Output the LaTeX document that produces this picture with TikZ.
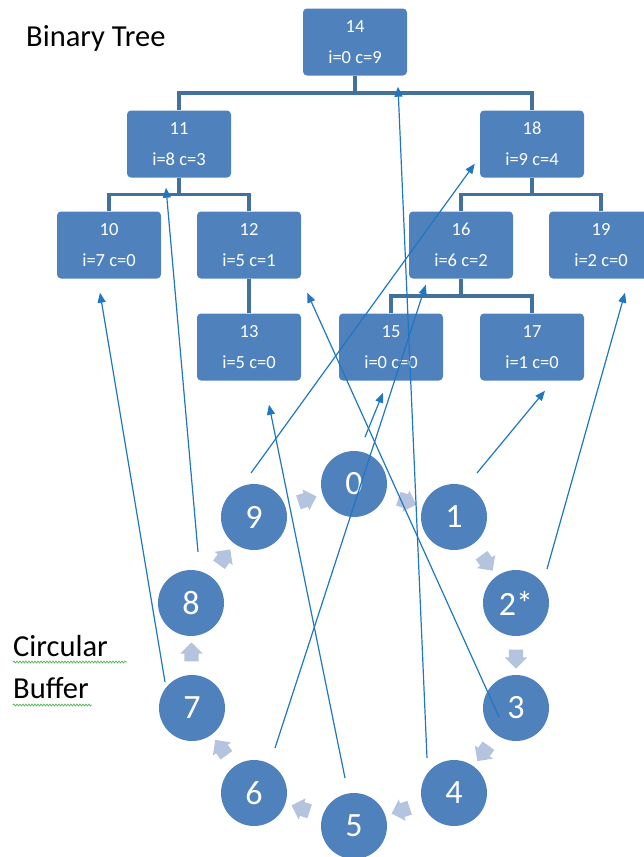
\documentclass[tikz,border=0pt]{standalone}
\usepackage{fontspec}
\setmainfont{Carlito}
\usetikzlibrary{arrows.meta,shapes.arrows,decorations.pathmorphing,calc}
\definecolor{boxblue}{HTML}{4F81BD}
\definecolor{treeline}{HTML}{41719C}
\definecolor{linkblue}{HTML}{1F77C3}
\definecolor{ringarrow}{HTML}{B4C3DE}
\definecolor{squig}{HTML}{5DB75D}
\begin{document}
\begin{tikzpicture}[x=1pt,y=-1pt,
 treebox/.style={rectangle, rounded corners=4pt, fill=boxblue, text=white, minimum width=104pt, minimum height=67pt, align=center, inner sep=0pt, font=\fontsize{18.5}{31}\selectfont},
 slot/.style={circle, fill=boxblue, text=white, minimum size=66pt, inner sep=0pt, font=\fontsize{34}{34}\selectfont},
 treelink/.style={draw=treeline, line width=3.5pt},
 ptr/.style={draw=linkblue, line width=1.2pt, -{Triangle[length=10pt,width=8pt]}},
 ringstep/.style={single arrow, fill=ringarrow, minimum height=19pt, single arrow head extend=4pt, inner xsep=0pt, inner ysep=7pt, sloped, allow upside down},
 title/.style={anchor=base west, font=\fontsize{30.5}{30.5}\selectfont, inner sep=0pt},
 squiggle/.style={draw=squig, line width=0.8pt, decorate, decoration={snake, amplitude=0.9pt, segment length=3pt}}
]
\useasboundingbox (0,0) rectangle (643,857);

% labels
\node[title] (lbt) at (26,46) {Binary Tree};
\node[title] (lcir) at (13,656) {Circular};
\node[title] (lbuf) at (13,698) {Buffer};
\draw[squiggle] (13,662) -- (127,662);
\draw[squiggle] (13,705) -- (92,705);

% tree boxes
\node[treebox] (b14) at (355,42) {14\\i=0 c=9};
\node[treebox] (b11) at (179,144) {11\\i=8 c=3};
\node[treebox] (b18) at (532,144) {18\\i=9 c=4};
\node[treebox] (b10) at (109,245) {10\\i=7 c=0};
\node[treebox] (b12) at (249,245) {12\\i=5 c=1};
\node[treebox] (b16) at (461,245) {16\\i=6 c=2};
\node[treebox] (b19) at (601,245) {19\\i=2 c=0};
\node[treebox] (b13) at (249,347) {13\\i=5 c=0};
\node[treebox] (b15) at (391,347) {15\\i=0 c=0};
\node[treebox] (b17) at (532,347) {17\\i=1 c=0};

% tree links
\foreach \p/\c in {b14/b11,b14/b18,b11/b10,b11/b12,b18/b16,b18/b19,b16/b15,b16/b17}
  \draw[treelink] (\p.south) |- ($(\p.south)!.5!(\c.north)$) -| (\c.north);
\draw[treelink] (b12.south) -- (b13.north);

% circular buffer
\node[slot] (c0) at (354,484) {0};
\node[slot] (c1) at (454,517) {1};
\node[slot] (c2) at (516,603) {2*};
\node[slot] (c3) at (516,708) {3};
\node[slot] (c4) at (454,793) {4};
\node[slot] (c5) at (354,826) {5};
\node[slot] (c6) at (254,793) {6};
\node[slot] (c7) at (192,708) {7};
\node[slot] (c8) at (191,603) {8};
\node[slot] (c9) at (254,517) {9};

\foreach \a/\b in {c9/c0,c0/c1,c1/c2,c2/c3,c3/c4,c4/c5,c5/c6,c6/c7,c7/c8,c8/c9}
  \path (\a) -- (\b) node[midway, ringstep] (r\a\b) {};

% pointer ends
\coordinate (s0) at ($(c0)+(11,-47)$);
\coordinate (s1) at ($(c1)+(23,-44)$);
\coordinate (s2) at ($(c2)+(31,-34)$);
\coordinate (s3) at ($(c3)+(-17,9)$);
\coordinate (s4) at ($(c4)+(-27,-35)$);
\coordinate (s5) at ($(c5)+(-9,-48)$);
\coordinate (s6) at ($(c6)+(21,-45)$);
\coordinate (s7) at ($(c7)+(-27,-26)$);
\coordinate (s8) at ($(c8)+(7,-51)$);
\coordinate (s9) at ($(c9)+(-3,-44)$);

\coordinate (t18) at ($(b18.south west)+(-5,-14)$);
\coordinate (t11) at ($(b11.south)+(-13,10)$);
\coordinate (t10) at ($(b10.south)+(-9,14)$);
\coordinate (t16) at ($(b16.south west)+(17,6)$);
\coordinate (t13) at ($(b13.south)+(20,24)$);
\coordinate (t14) at ($(b14.south)+(43,11)$);
\coordinate (t12) at ($(b12.south east)+(6,14)$);
\coordinate (t19) at ($(b19.south)+(24,14)$);
\coordinate (t17) at ($(b17.south)+(13,10)$);
\coordinate (t15) at ($(b15.south)+(-8,12)$);

\foreach \s/\t in {s9/t18,s8/t11,s7/t10,s6/t16,s5/t13,s4/t14,s3/t12,s2/t19,s1/t17,s0/t15}
  \draw[ptr] (\s) -- (\t);
\end{tikzpicture}
\end{document}
